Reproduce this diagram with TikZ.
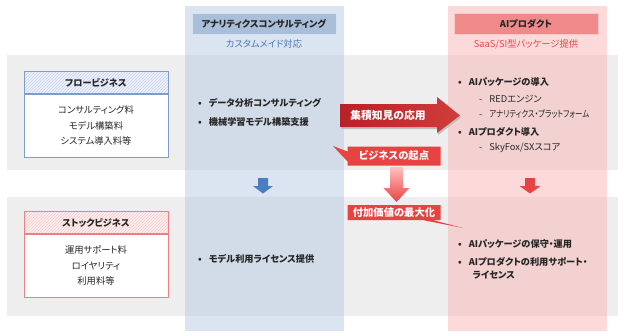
\documentclass[tikz,border=0pt]{standalone}
\usepackage{fontspec}
\setmainfont{Noto Sans CJK JP}[RawFeature=+palt]
\usetikzlibrary{patterns,shapes.callouts}

\definecolor{bandgray}{HTML}{EEEEEE}
\definecolor{colblue}{HTML}{B7CBE3}
\definecolor{colred}{HTML}{F9B5B5}
\definecolor{headblue}{HTML}{A9BED9}
\definecolor{headred}{HTML}{F08A8A}
\definecolor{subblue}{HTML}{4A76B4}
\definecolor{subred}{HTML}{E8474A}
\definecolor{alertred}{HTML}{E84343}
\definecolor{darkred}{HTML}{B82126}
\definecolor{arrowblue}{HTML}{4A7EC0}
\definecolor{boxblue}{HTML}{7F9DCB}
\definecolor{boxred}{HTML}{EF7F84}
\definecolor{inkgray}{HTML}{262626}

\begin{document}
\begin{tikzpicture}[x=1pt, y=-1pt,
    txt/.style={font=\fontsize{9.3}{15.5}\selectfont, inner sep=0pt, text=inkgray},
    bld/.style={font=\fontsize{9.2}{13}\selectfont\bfseries, inner sep=0pt, text=inkgray},
    item/.style={bld, anchor=west},
    subitem/.style={txt, anchor=west},
    colhead/.style={bld, minimum width=144pt, minimum height=21pt, line width=1pt},
    bizhead/.style={bld, minimum width=144pt, minimum height=22pt, line width=0.8pt},
    bizbody/.style={txt, align=center, fill=white, minimum width=144pt, minimum height=63pt, line width=0.8pt},
    alert/.style={rectangle callout, fill=alertred, text=white, font=\fontsize{10.3}{10}\selectfont\bfseries,
      inner sep=0pt, minimum height=19pt, minimum width=93pt, callout pointer width=10pt}]
    \useasboundingbox (0,0) rectangle (624,335);

    % --- bandes grises (flux / stock) ---
    \fill[bandgray] (7,55) rectangle (618,170);
    \fill[bandgray] (7,197) rectangle (618,316);

    % --- colonnes ---
    \fill[colblue, fill opacity=0.5] (185,6) rectangle (344,331);
    \fill[colred, fill opacity=0.5] (448,6) rectangle (607,331);

    % en-tetes des colonnes
    \node[colhead, fill=headblue, draw=headblue!45!white] (anahead) at (264,23.5) {アナリティクスコンサルティング};
    \node[txt, text=subblue] (anasub) at (264,44) {カスタムメイド対応};
    \node[colhead, fill=headred, draw=headred!45!white] (aihead) at (526,23.5) {AIプロダクト};
    \node[txt, text=subred] (aisub) at (526,44) {SaaS/SI型パッケージ提供};

    % --- boites de gauche ---
    \node[bizhead, draw=boxblue, preaction={fill=blue!6}, pattern=north east lines, pattern color=boxblue!45] (flowhead) at (96,82.5) {フロービジネス};
    \node[bizbody, draw=boxblue, anchor=north] (flowbody) at (flowhead.south) {コンサルティング料\\モデル構築料\\システム導入料等};
    \node[bizhead, draw=boxred, preaction={fill=red!5}, pattern=north east lines, pattern color=boxred!45] (stockhead) at (96,222.5) {ストックビジネス};
    \node[bizbody, draw=boxred, anchor=north] (stockbody) at (stockhead.south) {運用サポート料\\ロイヤリティ\\利用料等};

    % --- colonne bleue : contenus ---
    \node[item] (b1) at (198,103) {•\hspace{7pt}データ分析コンサルティング};
    \node[item] (b2) at (198,122) {•\hspace{7pt}機械学習モデル構築支援};
    \node[item] (b3) at (198,259) {•\hspace{7pt}モデル利用ライセンス提供};

    % --- colonne rouge : contenus ---
    \node[item] (r1) at (458,82) {•\hspace{7pt}AIパッケージの導入};
    \node[subitem] (r1a) at (479,99) {-\hspace{7pt}REDエンジン};
    \node[subitem] (r1b) at (479,114) {-\hspace{7pt}\scalebox{0.8}[1]{アナリティクス・プラットフォーム}};
    \node[item] (r2) at (458,132) {•\hspace{7pt}AIプロダクト導入};
    \node[subitem] (r2a) at (479,148) {-\hspace{7pt}SkyFox/SXスコア};
    \node[item] (r3) at (458,244) {•\hspace{7pt}AIパッケージの保守・運用};
    \node[item, align=left] (r4) at (458,268) {•\hspace{7pt}AIプロダクトの利用サポート・\\\hspace{14.5pt}ライセンス};

    % --- fleches vers le bas ---
    \fill[arrowblue] (258,178) -- (268,178) -- (268,186) -- (273,186) -- (263,193.5)
        -- (253,186) -- (258,186) -- cycle;
    \fill[alertred] (525,178) -- (535,178) -- (535,186) -- (540.5,186) -- (530,193.5)
        -- (519.5,186) -- (525,186) -- cycle;
    \shade[top color=red!25, bottom color=alertred] (390,167) -- (403,167) -- (403,188)
        -- (409.5,188) -- (396.5,202) -- (383.5,188) -- (390,188) -- cycle;

    % --- grande fleche : application du savoir ---
    \fill[black!25] (341,106) -- (438,106) -- (438,99) -- (461,117.5) -- (438,135)
        -- (438,129) -- (341,129) -- cycle;
    \shade[left color=darkred, right color=alertred!90!black] (340,104) -- (437,104) -- (437,97)
        -- (460,115.5) -- (437,133) -- (437,127) -- (340,127) -- cycle;
    \node[bld, text=white, font=\fontsize{10.8}{12}\selectfont\bfseries] (apply) at (388,115.5) {集積知見の応用};

    % --- bulles ---
    \node[alert, callout absolute pointer={(333,146)}] (origin) at (394,156) {ビジネスの起点};
    \node[alert, minimum height=15pt, callout absolute pointer={(463,228)}] (maxval) at (394,212.5) {付加価値の最大化};
\end{tikzpicture}
\end{document}
